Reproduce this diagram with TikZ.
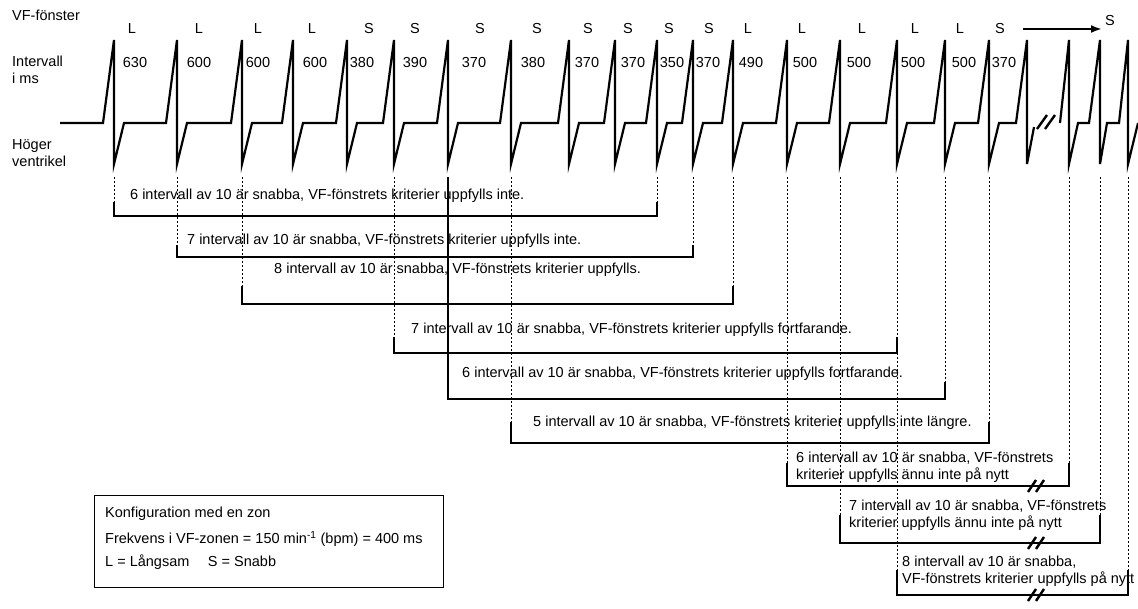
\documentclass[tikz,border=0pt]{standalone}
\usepackage{fontspec}
\setmainfont{Liberation Sans}
\usepackage{tikz}
\usetikzlibrary{arrows.meta,positioning,calc}
\tikzset{
  wave/.style   = {line width=2.2pt},
  bline/.style  = {line width=1.3pt},
  leader/.style = {line width=1pt, dash pattern=on 2pt off 2pt},
  brk/.style    = {line width=2.4pt},
  lbl/.style    = {anchor=west, inner sep=0pt, align=left},
  ivtag/.style  = {inner sep=0pt},
  sig/.style    = {-{Latex[length=11pt,width=8pt]}, line width=2.6pt},
  cfgbox/.style = {draw, line width=1.2pt, anchor=north west,
                   minimum width=349pt, minimum height=92pt, inner sep=0pt},
}
\begin{document}
\begin{tikzpicture}[x=1pt,y=-1pt,font=\fontsize{14.5}{16.5}\selectfont]
\useasboundingbox (0,0) rectangle (1138,608);
\foreach \x [count=\i] in {114,177,242,293,347,394,448,511,569,615,657,693,733,787,840,897,945,989,1027,1069,1100,1128}
  \coordinate (p\i) at (\x,177);
\draw[wave] (60,123) \foreach \x in {114,177,242,293,347,394,448,511,569,615,657,693,733,787,840,897,945,989}
  {-- (\x-11,123) -- (\x,40) -- (\x,164) -- (\x+10,123)} -- (1016,123) -- (1027,40) -- (1027,164) -- (1034,127);
\draw[wave] (1060,123) -- (1069,40) -- (1069,164) -- (1078,123) -- (1089,123) -- (1100,40) -- (1100,164) -- (1107,123)
  -- (1119,123) -- (1128,40) -- (1128,164) -- (1138,123);
\draw[brk] (1037,129) -- (1047,115) (1045,129) -- (1055,115);
\node[lbl] (vf) at (12,15) {VF-fönster};
\node[lbl] (ivl) at (12,70) {Intervall\\i ms};
\node[lbl] (hv) at (12,153) {Höger\\ventrikel};
\foreach \x/\c [count=\i] in {132/L,199/L,258/L,312/L,369/S,415/S,480/S,537/S,588/S,628/S,669/S,709/S,748/L,802/L,862/L,915/L,960/L,1000/S}
  \node[ivtag] (w\i) at (\x,29) {\c};
\foreach \x/\n [count=\i] in {135/630,199/600,258/600,315/600,362/380,415/390,474/370,533/380,587/370,633/370,672/350,708/370,751/490,805/500,859/500,913/500,964/500,1004/370}
  \node[ivtag] (n\i) at (\x,63) {\n};
\coordinate (a0) at (1023,29);
\coordinate (a1) at (1102,29);
\node[ivtag] (wS) at (1110,21) {S};
\draw[sig] (a0) -- (a1);
\foreach \i/\e in {1/202,2/245,3/286,6/337,8/422,11/202,12/245,13/286,14/463,15/515,16/570,17/382,18/422,20/463,21/515,22/570}
  \draw[leader] (p\i) -- (p\i |- 0,\e);
\draw[bline] (p7) -- (p7 |- 0,382);
\foreach \a/\b/\t/\y in {1/11/202/216,2/12/245/257,3/13/286/304,6/16/337/353,7/17/382/399,8/18/422/443,14/20/463/486,15/21/515/543,16/22/570/595}
  \draw[bline] (p\a |- 0,\t) -- (p\a |- 0,\y) -- (p\b |- 0,\y) -- (p\b |- 0,\t);
\foreach \y in {486,543,595}
  \draw[brk] (1028,\y+6) -- (1036,\y-6) (1036,\y+6) -- (1044,\y-6);
\node[lbl] (t1) at (130,196) {6 intervall av 10 är snabba, VF-fönstrets kriterier uppfylls inte.};
\node[lbl] (t2) at (187,241) {7 intervall av 10 är snabba, VF-fönstrets kriterier uppfylls inte.};
\node[lbl] (t3) at (274,270) {8 intervall av 10 är snabba, VF-fönstrets kriterier uppfylls.};
\node[lbl] (t4) at (411,330) {7 intervall av 10 är snabba, VF-fönstrets kriterier uppfylls fortfarande.};
\node[lbl] (t5) at (462,374) {6 intervall av 10 är snabba, VF-fönstrets kriterier uppfylls fortfarande.};
\node[lbl] (t6) at (533,423) {5 intervall av 10 är snabba, VF-fönstrets kriterier uppfylls inte längre.};
\node[lbl] (t7) at (796,467) {6 intervall av 10 är snabba, VF-fönstrets\\kriterier uppfylls ännu inte på nytt};
\node[lbl] (t8) at (849,515) {7 intervall av 10 är snabba, VF-fönstrets\\kriterier uppfylls ännu inte på nytt};
\node[lbl] (t9) at (902,571) {8 intervall av 10 är snabba,\\VF-fönstrets kriterier uppfylls på nytt};
\node[cfgbox] (cfg) at (94,495) {};
\node[lbl, right=11pt of cfg.west, yshift=3pt] (cfgtxt) {Konfiguration med en zon\\[9pt]Frekvens i VF-zonen = 150 min\textsuperscript{-1} (bpm) = 400 ms\\[7pt]L = Långsam\quad\ S = Snabb};
\end{tikzpicture}
\end{document}
